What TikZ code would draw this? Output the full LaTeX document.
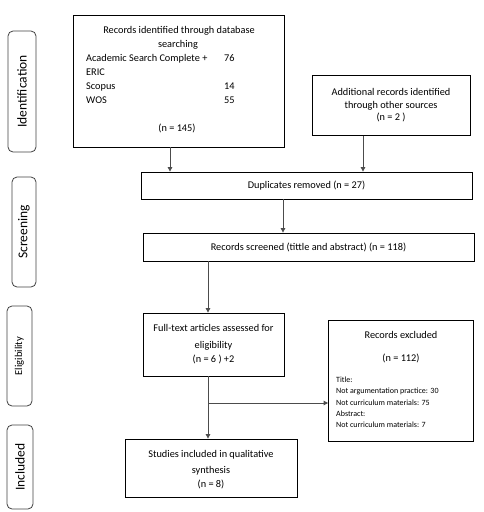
\documentclass[tikz,border=0pt]{standalone}
\usepackage{fontspec}
\setmainfont{Carlito}
\usetikzlibrary{arrows.meta}
\begin{document}
\begin{tikzpicture}[x=1pt,y=-1pt,
  box/.style={draw=black, line width=0.8pt, inner sep=0pt, font=\fontsize{10.3}{12}\selectfont},
  txt/.style={anchor=base, inner sep=0pt, font=\fontsize{10.3}{12}\selectfont},
  ltxt/.style={anchor=base west, inner sep=0pt, font=\fontsize{10.3}{12}\selectfont},
  stxt/.style={anchor=base west, inner sep=0pt, font=\fontsize{8}{10}\selectfont},
  phase/.style={draw=black!75, line width=0.8pt, rounded corners=5pt, inner sep=0pt},
  ptxt/.style={rotate=90, inner sep=0pt, font=\fontsize{13.5}{15}\selectfont},
  arr/.style={draw=black!70, line width=0.8pt, -{Triangle[width=4.5pt,length=4.5pt]}}]
\useasboundingbox (0,0) rectangle (483,512);
% phase labels
\node[phase, minimum width=28pt, minimum height=121pt] (pid) at (22,91.5) {};
\node[ptxt] (tid) at (pid.center) {Identification};
\node[phase, minimum width=24pt, minimum height=110pt] (psc) at (24,232) {};
\node[ptxt] (tsc) at (psc.center) {Screening};
\node[phase, minimum width=25pt, minimum height=100pt] (pel) at (19.5,356) {};
\node[ptxt, font=\fontsize{10.5}{12}\selectfont] (tel) at (pel.center) {Eligibility};
\node[phase, minimum width=26pt, minimum height=84pt] (pin) at (20,467) {};
\node[ptxt] (tin) at (pin.center) {Included};
% boxes
\node[box, minimum width=211pt, minimum height=132pt] (db) at (178.5,81) {};
\node[txt] (db1) at (179,33) {Records identified through database};
\node[txt] (db2) at (178,47) {searching};
\node[ltxt] (db3) at (86,61) {Academic Search Complete +};
\node[ltxt] (db4) at (86,75) {ERIC};
\node[ltxt] (db5) at (86,89) {Scopus};
\node[ltxt] (db6) at (86,103) {WOS};
\node[ltxt] (db7) at (224,61) {76};
\node[ltxt] (db8) at (224,89) {14};
\node[ltxt] (db9) at (224,103) {55};
\node[txt] (db10) at (177,131) {(n = 145)};
\node[box, minimum width=158pt, minimum height=60pt] (add) at (391.5,105.5) {};
\node[txt] (ad1) at (391,95) {Additional records identified};
\node[txt] (ad2) at (391,108) {through other sources};
\node[txt] (ad3) at (391,120.5) {(n = 2 )};
\node[box, minimum width=331pt, minimum height=27pt] (dup) at (306.5,185.5) {Duplicates removed (n = 27)};
\node[box, minimum width=331pt, minimum height=28pt] (scr) at (308.5,247) {Records screened (tittle and abstract) (n = 118)};
\node[box, minimum width=141pt, minimum height=63pt] (full) at (213.5,344.5) {};
\node[txt] (fu1) at (213.5,331) {Full-text articles assessed for};
\node[txt] (fu2) at (213.5,348) {eligibility};
\node[txt] (fu3) at (213.5,362) {(n = 6 ) +2};
\node[box, minimum width=145pt, minimum height=121pt] (exc) at (401,380.5) {};
\node[txt] (ex1) at (401,338) {Records excluded};
\node[txt] (ex2) at (401,361) {(n = 112)};
\node[stxt] (ex3) at (336,382.5) {Title:};
\node[stxt] (ex4) at (336,393.8) {Not argumentation practice: 30};
\node[stxt] (ex5) at (336,405.1) {Not curriculum materials: 75};
\node[stxt] (ex6) at (336,416.4) {Abstract:};
\node[stxt] (ex7) at (336,427.7) {Not curriculum materials: 7};
\node[box, minimum width=172pt, minimum height=58pt] (inc) at (211,468) {};
\node[txt] (in1) at (211,457) {Studies included in qualitative};
\node[txt] (in2) at (211,473) {synthesis};
\node[txt] (in3) at (211,487) {(n = 8)};
% connector columns
\coordinate (c1) at (170,0);
\coordinate (c2) at (363,0);
\coordinate (c3) at (283,0);
\coordinate (c4) at (208,0);
\coordinate (br) at (208,403);
\draw[arr] (db.south -| c1) -- (dup.north -| c1);
\draw[arr] (add.south -| c2) -- (dup.north -| c2);
\draw[arr] (dup.south -| c3) -- (scr.north -| c3);
\draw[arr] (scr.south -| c4) -- (full.north -| c4);
\draw[arr] (full.south -| c4) -- (inc.north -| c4);
\draw[arr] (br) -- (br -| exc.west);
\end{tikzpicture}
\end{document}
